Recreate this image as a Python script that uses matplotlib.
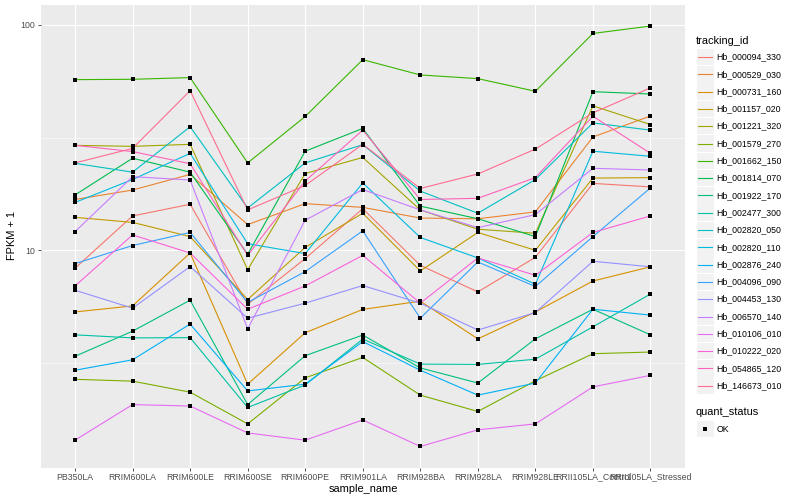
import numpy as np
import matplotlib
matplotlib.use('Agg')
import matplotlib.pyplot as plt
from matplotlib.patches import Rectangle
from matplotlib.lines import Line2D
from matplotlib.ticker import FixedLocator, NullFormatter

# ---------------------------------------------------------------- data (FPKM + 1)
samples = ['PB350LA', 'RRIM600LA', 'RRIM600LE', 'RRIM600SE', 'RRIM600PE', 'RRIM901LA',
           'RRIM928BA', 'RRIM928LA', 'RRIM928LE', 'RRII105LA_Control', 'RRII105LA_Stressed']

genes = ['Hb_000094_330', 'Hb_000529_030', 'Hb_000731_160', 'Hb_001157_020', 'Hb_001221_320',
         'Hb_001579_270', 'Hb_001662_150', 'Hb_001814_070', 'Hb_001922_170', 'Hb_002477_300',
         'Hb_002820_050', 'Hb_002820_110', 'Hb_002876_240', 'Hb_004096_090', 'Hb_004453_130',
         'Hb_006570_140', 'Hb_010106_010', 'Hb_010222_020', 'Hb_054865_120', 'Hb_146673_010']

hb_000094_330 = [8.33, 14.2, 16.0, 5.77, 9.19, 15.3, 8.58, 6.54, 9.31, 19.8, 19.1]
hb_000529_030 = [16.8, 18.5, 21.7, 13.0, 16.1, 15.5, 13.9, 13.8, 14.8, 31.8, 39.4]
hb_000731_160 = [5.33, 5.67, 9.73, 2.55, 4.31, 5.47, 5.95, 4.05, 5.33, 7.31, 8.45]
hb_001157_020 = [14.0, 13.3, 11.5, 6.05, 10.3, 14.6, 8.1, 12.0, 10.0, 20.9, 21.0]
hb_001221_320 = [29.2, 28.9, 29.5, 8.2, 21.9, 25.8, 15.1, 12.4, 11.9, 43.7, 36.1]
hb_001579_270 = [2.68, 2.63, 2.35, 1.70, 2.72, 3.35, 2.28, 1.93, 2.64, 3.48, 3.54]
hb_001662_150 = [57.1, 57.3, 58.3, 24.4, 39.2, 70.0, 59.9, 57.7, 50.7, 91.5, 98.7]
hb_001814_070 = [17.6, 25.6, 22.2, 9.6, 27.5, 34.7, 15.7, 13.8, 11.5, 50.5, 49.3]
hb_001922_170 = [3.39, 4.38, 6.01, 2.07, 3.41, 4.21, 3.01, 2.58, 4.05, 5.48, 4.22]
hb_002477_300 = [4.22, 4.09, 4.10, 2.01, 2.53, 4.04, 3.13, 3.12, 3.29, 4.58, 6.40]
hb_002820_050 = [24.3, 22.2, 35.3, 15.4, 24.4, 29.4, 18.3, 14.6, 20.6, 36.7, 34.1]
hb_002820_110 = [16.3, 20.6, 26.9, 10.7, 9.67, 19.9, 11.4, 9.25, 7.07, 27.5, 26.1]
hb_002876_240 = [2.94, 3.27, 4.71, 2.38, 2.55, 3.94, 2.94, 2.28, 2.58, 5.48, 5.16]
hb_004096_090 = [8.73, 10.5, 12.0, 5.87, 8.05, 12.2, 5.0, 8.88, 6.91, 11.5, 18.9]
hb_004453_130 = [6.65, 5.54, 8.47, 5.0, 5.83, 6.98, 5.83, 4.43, 5.3, 8.94, 8.45]
hb_006570_140 = [12.1, 21.2, 20.5, 4.49, 13.6, 18.6, 15.1, 12.6, 14.4, 23.1, 22.7]
hb_010106_010 = [1.44, 2.07, 2.04, 1.55, 1.44, 1.77, 1.35, 1.60, 1.70, 2.48, 2.79]
hb_010222_020 = [6.95, 11.7, 9.73, 5.48, 6.95, 9.5, 5.83, 9.25, 7.75, 12.0, 14.2]
hb_054865_120 = [29.2, 27.4, 24.2, 9.5, 20.3, 34.1, 16.8, 17.0, 21.0, 39.3, 26.9]
hb_146673_010 = [24.4, 28.3, 51.0, 15.1, 19.4, 29.5, 18.8, 21.8, 28.1, 40.7, 52.5]

fpkm_plus1 = [hb_000094_330, hb_000529_030, hb_000731_160, hb_001157_020, hb_001221_320,
              hb_001579_270, hb_001662_150, hb_001814_070, hb_001922_170, hb_002477_300,
              hb_002820_050, hb_002820_110, hb_002876_240, hb_004096_090, hb_004453_130,
              hb_006570_140, hb_010106_010, hb_010222_020, hb_054865_120, hb_146673_010]

# ggplot default hue palette, 20 levels
colors = ['#F8766D', '#EA8331', '#D89000', '#C09B00', '#A3A500', '#7CAE00', '#39B600',
          '#00BB4E', '#00BF7D', '#00C1A3', '#00BFC4', '#00BAE0', '#00B0F6', '#35A2FF',
          '#9590FF', '#C77CFF', '#E76BF3', '#FA62DB', '#FF62BC', '#FF6C91']

plt.rcParams['font.family'] = ['Liberation Sans', 'DejaVu Sans']

W, H = 800.0, 500.0
fig = plt.figure(figsize=(8, 5), dpi=100)
ax = fig.add_axes([40.5 / W, 1 - 467.5 / H, 644.5 / W, 462.5 / H])
ax.set_facecolor('#EBEBEB')

x = np.arange(len(samples))
for vals, col in zip(fpkm_plus1, colors):
    ax.plot(x, vals, color=col, lw=0.8, zorder=3)
for vals in fpkm_plus1:
    ax.plot(x, vals, ls='none', marker='s', ms=2.4, mew=0, color='black', zorder=4)

# log scale with ggplot-like 5% expansion
ax.set_yscale('log')
lo = np.log10(min(min(v) for v in fpkm_plus1))
hi = np.log10(max(max(v) for v in fpkm_plus1))
pad = (hi - lo) * 0.05
ax.set_ylim(10 ** (lo - pad), 10 ** (hi + pad))
ax.set_xlim(-0.6, len(samples) - 0.4)

ax.yaxis.set_major_locator(FixedLocator([10, 100]))
ax.yaxis.set_major_formatter(matplotlib.ticker.FixedFormatter(['10', '100']))
ax.yaxis.set_minor_locator(FixedLocator([10 ** 0.5, 10 ** 1.5]))
ax.yaxis.set_minor_formatter(NullFormatter())
ax.set_xticks(x)
ax.set_xticklabels(samples)

ax.grid(which='major', color='white', lw=0.8)
ax.grid(which='minor', axis='y', color='white', lw=0.4)
ax.set_axisbelow(True)
for s in ax.spines.values():
    s.set_visible(False)
ax.tick_params(which='major', length=2.0, width=0.6, color='#333333',
               labelsize=6.3, labelcolor='#4D4D4D', pad=1.6)
ax.tick_params(which='minor', length=0)

fig.text(363 / W, 1 - 489 / H, 'sample_name', ha='center', va='center', fontsize=7.9)
fig.text(12 / W, 1 - 236 / H, 'FPKM + 1', ha='center', va='center', rotation=90, fontsize=7.9)

# ---------------------------------------------------------------- legend (drawn in pixel space)
lax = fig.add_axes([0, 0, 1, 1])
lax.set_xlim(0, W)
lax.set_ylim(H, 0)
lax.axis('off')

lax.text(696, 40.5, 'tracking_id', ha='left', va='center', fontsize=7.9)
for i, (g, col) in enumerate(zip(genes, colors)):
    yc = 57.0 + i * 17.3
    lax.add_patch(Rectangle((696.5, yc - 8.3), 17, 16.6, fc='#F2F2F2', ec='none'))
    lax.add_line(Line2D([698.3, 712.0], [yc, yc], color=col, lw=0.8))
    lax.text(716.5, yc, g, ha='left', va='center', fontsize=6.3)

lax.text(696, 412.3, 'quant_status', ha='left', va='center', fontsize=7.9)
lax.add_patch(Rectangle((696.5, 429 - 8.3), 17, 16.6, fc='#F2F2F2', ec='none'))
lax.plot([705], [429], ls='none', marker='s', ms=2.4, mew=0, color='black')
lax.text(716.5, 429, 'OK', ha='left', va='center', fontsize=6.3)

fig.savefig('out.png', dpi=100)
